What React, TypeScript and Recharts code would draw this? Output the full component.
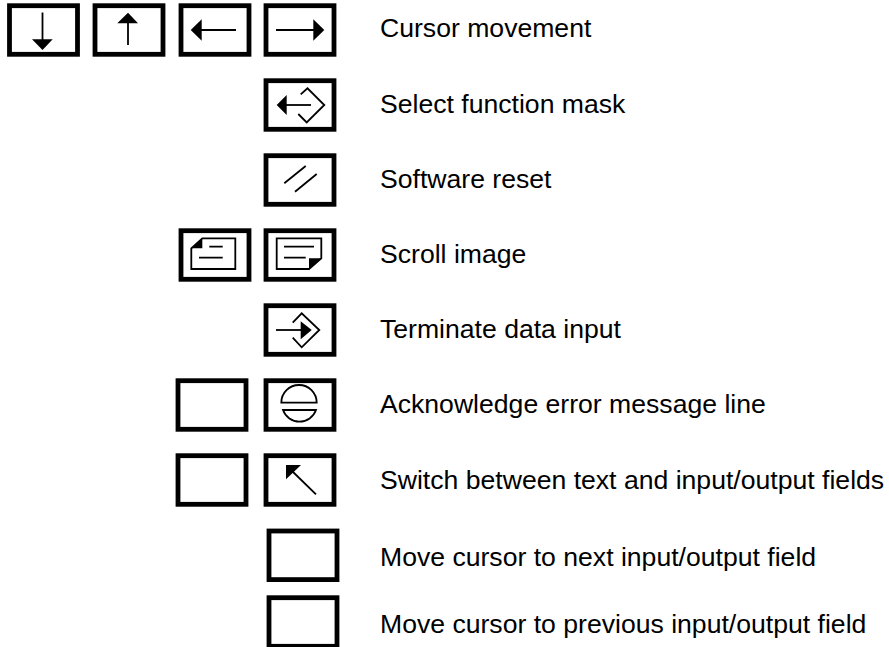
import React from 'react';
import { ScatterChart, Scatter, XAxis, YAxis } from 'recharts';

// Key caps (page pixels)
const keyNames = ['down', 'up', 'left', 'right', 'select', 'reset', 'scrollUp', 'scrollDown', 'enter', 'blank', 'ack', 'blank', 'switch', 'blank', 'blank'];
const keyX = [43.5, 129, 215, 300, 300, 300, 215, 300, 300, 212, 300, 212, 300, 303, 303];
const keyY = [30, 30, 30, 30, 105, 180, 255, 255, 330, 405, 405, 480, 480, 555.3, 622];

// Descriptions on the right, y is the text baseline
const labels = [
  'Cursor movement',
  'Select function mask',
  'Software reset',
  'Scroll image',
  'Terminate data input',
  'Acknowledge error message line',
  'Switch between text and input/output fields',
  'Move cursor to next input/output field',
  'Move cursor to previous input/output field',
];
const labelX = [380, 380, 380, 380, 380, 380, 380, 380, 380];
const labelY = [37, 113, 188, 263, 338, 413, 488.5, 565.5, 632.7];

const keyData = keyNames.map((name, i) => ({ name, x: keyX[i], y: keyY[i] }));
const labelData = labels.map((text, i) => ({ text, x: labelX[i], y: labelY[i] }));

// Glyph drawn inside a key, offsets from the key centre
const Glyph = ({ name }: { name: string }) => {
  const thin = { fill: 'none', stroke: '#000', strokeWidth: 1.8 };
  switch (name) {
    case 'down':
      return (
        <g>
          <path d="M-1 -17.5V10" {...thin} />
          <path d="M-11.5 9.3H9.2L-1 20Z" fill="#000" />
        </g>
      );
    case 'up':
      return (
        <g>
          <path d="M-1 -7V15" {...thin} />
          <path d="M-11.7 -6.7H9L-1 -17.3Z" fill="#000" />
        </g>
      );
    case 'left':
      return (
        <g>
          <path d="M-14 0H21" {...thin} />
          <path d="M-24.3 0L-13.3 -10.7V10.7Z" fill="#000" />
        </g>
      );
    case 'right':
      return (
        <g>
          <path d="M-24 0H14" {...thin} />
          <path d="M24.3 0L13.3 -10.7V10.7Z" fill="#000" />
        </g>
      );
    case 'select':
      return (
        <g>
          <path d="M-14 0H11" {...thin} />
          <path d="M-23.3 0L-13.3 -10V10Z" fill="#000" />
          <path d="M0.7 -10.7L7.5 -16.7L24.3 0L6.7 17.5L-1.7 9" {...thin} />
        </g>
      );
    case 'reset':
      return (
        <g>
          <path d="M-15.7 3.3L5.7 -14" {...thin} />
          <path d="M-5 11.7L16.7 -6" {...thin} />
        </g>
      );
    case 'scrollUp':
      return (
        <g>
          <path d="M-12.7 -16.7H20.3V14H-23.7V-6.7Z" {...thin} />
          <path d="M-23.7 -6.7L-12.7 -16.7V-6.7Z" fill="#000" />
          <path d="M-5.7 -8.3H7.7M-16 2.7H7.7" {...thin} />
        </g>
      );
    case 'scrollDown':
      return (
        <g>
          <path d="M-23.3 -16.7H21.3V3.3L9 14H-23.3Z" {...thin} />
          <path d="M21.3 3.3L9 14V3.3Z" fill="#000" />
          <path d="M-16 -8.3H14M-16 2.7H5.7" {...thin} />
        </g>
      );
    case 'enter':
      return (
        <g>
          <path d="M-24 0H2" {...thin} />
          <path d="M11.7 0L0.7 -8.8V9.3Z" fill="#000" />
          <path d="M-7.3 -7.3L1.7 -16.7L19.3 0L1.7 17.3L-7.3 7.7" {...thin} />
        </g>
      );
    case 'ack':
      return (
        <g>
          <path d="M-18.7 -2.3A17.5 17.5 0 0 1 16.7 -2.3Z" {...thin} />
          <path d="M-17 5H16A17.5 17.5 0 0 1 -17 5Z" {...thin} />
        </g>
      );
    case 'switch':
      return (
        <g>
          <path d="M16 14.3L-8 -9" {...thin} />
          <path d="M-14 -15H1L-14 -0.7Z" fill="#000" />
        </g>
      );
    default:
      return null;
  }
};

const KeyShape = (props: any) => {
  const { cx, cy, payload } = props;
  return (
    <g transform={`translate(${cx},${cy})`}>
      <rect x={-34} y={-24.3} width={68} height={48.6} fill="#fff" stroke="#000" strokeWidth={4.8} />
      <Glyph name={payload.name} />
    </g>
  );
};

const LabelShape = (props: any) => {
  const { cx, cy, payload } = props;
  return (
    <text x={cx} y={cy} fill="#000" fontFamily="'Liberation Sans', Arial, sans-serif" fontSize={26.6}>
      {payload.text}
    </text>
  );
};

const App = () => {
  return (
    <div style={{ position: 'absolute', left: 0, top: 0, width: 889, height: 647, background: '#fff', overflow: 'hidden' }}>
      <ScatterChart width={889} height={647} margin={{ top: 0, right: 0, bottom: 0, left: 0 }}>
        <XAxis type="number" dataKey="x" domain={[0, 889]} hide />
        <YAxis type="number" dataKey="y" domain={[0, 647]} reversed hide />
        <Scatter data={keyData} shape={KeyShape} isAnimationActive={false} />
        <Scatter data={labelData} shape={LabelShape} isAnimationActive={false} />
      </ScatterChart>
    </div>
  );
};

export default App;
